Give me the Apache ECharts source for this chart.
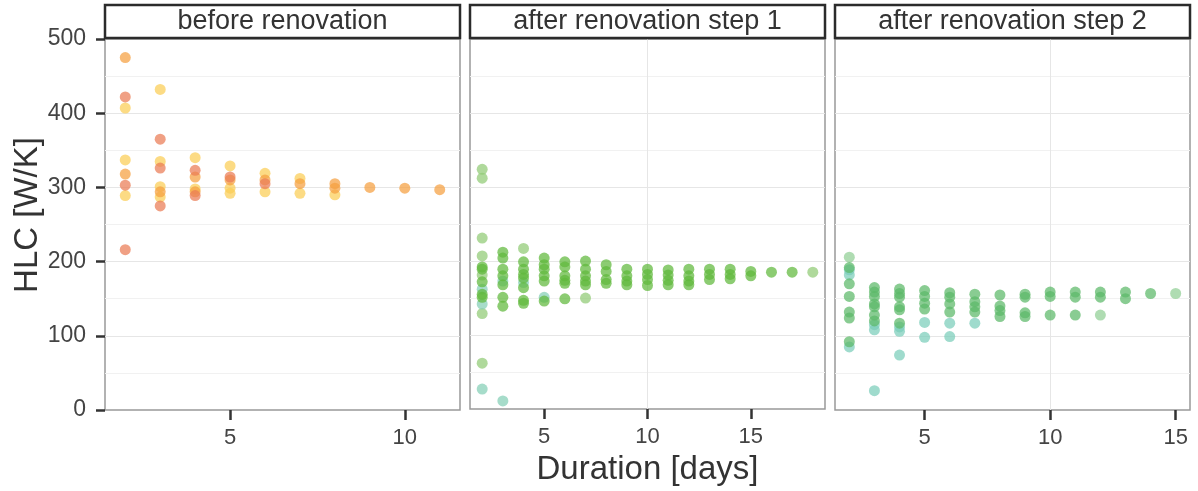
<!DOCTYPE html>
<html><head><meta charset="utf-8">
<script src="https://cdn.jsdelivr.net/npm/echarts@6/dist/echarts.min.js"></script>
<style>html,body{margin:0;padding:0;background:#fff}#c{width:1198px;height:491px}</style>
</head><body><div id="c"></div>
<script>
// ---- text / ticks ----
const panelTitles = ['before renovation', 'after renovation step 1', 'after renovation step 2'];
const xTicksP1 = [5, 10];
const xTicksP2 = [5, 10, 15];
const xTicksP3 = [5, 10, 15];
const yTicks = [0, 100, 200, 300, 400, 500];
const xTitle = 'Duration [days]';
const yTitle = 'HLC [W/K]';

// ---- data: [duration (days), HLC (W/K)] ----
// before renovation
const beforeYellow = [[2,407],[2,337],[2,289],[3,432],[3,335],[3,301],[3,287],[4,340],[4,298],[5,329],[5,299],[5,292],[6,319],[6,294],[7,312],[7,292],[8,290]];
const beforeOrange = [[2,475],[2,318],[3,294],[4,314],[4,294],[5,310],[6,310],[7,305],[8,305],[8,299],[9,300],[10,299],[11,297]];
const beforeRed = [[2,422],[2,303],[2,216],[3,365],[3,326],[3,275],[4,323],[4,289],[5,314],[6,305]];
// after renovation step 1
const step1Green = [[2,192],[2,189],[2,172],[2,155],[2,151],
  [3,212],[3,204],[3,189],[3,180],[3,168],[3,151],[3,139],
  [4,199],[4,189],[4,182],[4,177],[4,164],[4,147],[4,143],
  [5,204],[5,195],[5,189],[5,180],[5,173],[5,146],
  [6,199],[6,192],[6,180],[6,174],[6,170],[6,149],
  [7,200],[7,189],[7,180],[7,173],[7,168],
  [8,195],[8,186],[8,175],[8,170],
  [9,189],[9,180],[9,173],[9,168],
  [10,189],[10,182],[10,175],[10,167],
  [11,188],[11,181],[11,174],[11,168],
  [12,189],[12,180],[12,173],[12,168],
  [13,189],[13,182],[13,175],
  [14,189],[14,182],[14,176],
  [15,186],[15,180],[16,185],[17,185]];
const step1Light = [[2,324],[2,312],[2,231],[2,207],[2,181],[2,129],[2,62],[4,217],[7,150],[18,185]];
const step1Teal = [[2,162],[2,142],[2,27],[3,173],[3,11],[4,171],[5,151]];
// after renovation step 2
const step2Green = [[2,192],[2,170],[2,153],[2,132],[2,124],[2,92],
  [3,165],[3,159],[3,153],[3,143],[3,139],[3,128],[3,120],
  [4,163],[4,157],[4,152],[4,139],[4,135],[4,117],
  [5,161],[5,153],[5,144],[5,136],
  [6,158],[6,152],[6,143],[6,132],
  [7,156],[7,146],[7,139],[7,132],
  [8,155],[8,140],[8,134],[8,126],
  [9,156],[9,152],[9,131],[9,126],
  [10,159],[10,153],[10,128],
  [11,159],[11,152],[11,128],
  [12,159],[12,152],
  [13,159],[13,150],
  [14,157]];
const step2Light = [[2,206],[12,128],[15,157]];
const step2Teal = [[2,189],[2,182],[2,85],[3,115],[3,108],[3,26],[4,112],[4,106],[4,74],[5,118],[5,98],[6,117],[6,99],[7,117]];

// ---- layout ----
const FONT = "'Liberation Sans', Arial, sans-serif";
const panelLeft = [105, 470, 835];
const panelW = 355;
const panelTop = 39;
const panelBottomY = 410;
const xRanges = [[1.42, 11.58], [1.41, 18.59], [1.43, 15.57]];
const xTickSets = [xTicksP1, xTicksP2, xTicksP3];

const grids = panelLeft.map(l => ({
  left: l, width: panelW, top: panelTop, height: panelBottomY - panelTop,
  show: true, borderColor: '#999', borderWidth: 1.5, backgroundColor: 'transparent'
}));

const xAxes = xRanges.map((r, i) => ({
  type: 'value', gridIndex: i, min: r[0], max: r[1],
  axisLine: { show: false },
  axisTick: { show: true, customValues: xTickSets[i], length: 10, lineStyle: { color: '#333', width: 2.5 } },
  axisLabel: { customValues: xTickSets[i], fontSize: 22, color: '#444', fontFamily: FONT, margin: 17 },
  splitLine: { show: true, showMinLine: false, showMaxLine: false, lineStyle: { color: '#e6e6e6', width: 1 } },
  name: i === 1 ? xTitle : '', nameLocation: 'middle', nameGap: 38,
  nameTextStyle: { fontSize: 33, color: '#333', fontFamily: FONT }
}));

const yAxes = [0, 1, 2].map(i => ({
  type: 'value', gridIndex: i, min: 0, max: 500, interval: 100,
  axisLine: { show: false },
  axisTick: { show: i === 0, length: 9, lineStyle: { color: '#333', width: 2.5 } },
  axisLabel: { show: i === 0, fontSize: 23, color: '#444', fontFamily: FONT, margin: 19,
    formatter: v => (yTicks.indexOf(v) >= 0 ? String(v) : '') },
  splitLine: { show: true, showMinLine: false, showMaxLine: false, lineStyle: { color: '#e6e6e6', width: 1 } },
  minorTick: { show: false, splitNumber: 2 },
  minorSplitLine: { show: true, lineStyle: { color: '#f1f1f1', width: 1 } }
}));

function sc(data, idx, color) {
  return { type: 'scatter', xAxisIndex: idx, yAxisIndex: idx, data: data, symbolSize: 11,
    itemStyle: { color: color, opacity: 0.72 }, emphasis: { disabled: true }, silent: true };
}

const series = [
  sc(beforeYellow, 0, '#fbcd55'),
  sc(beforeOrange, 0, '#f5a040'),
  sc(beforeRed, 0, '#ea7c55'),
  sc(step1Light, 1, '#90cb74'),
  sc(step1Teal, 1, '#84cfb6'),
  sc(step1Green, 1, '#60b83c'),
  sc(step2Light, 2, '#90cf94'),
  sc(step2Teal, 2, '#7acdba'),
  sc(step2Green, 2, '#5cb968')
];

const graphics = [];
panelLeft.forEach((l, i) => {
  graphics.push({ type: 'rect', z: 100, shape: { x: l, y: 5, width: panelW, height: 33 },
    style: { fill: '#fff', stroke: '#2b2b2b', lineWidth: 2.5 } });
  graphics.push({ type: 'text', z: 101, x: l + panelW / 2, y: 22,
    style: { text: panelTitles[i], fontSize: 27, fill: '#333', fontFamily: FONT, align: 'center', verticalAlign: 'middle' } });
});
graphics.push({ type: 'text', x: 28, y: 215, rotation: Math.PI / 2,
  style: { text: yTitle, fontSize: 33, fill: '#333', fontFamily: FONT, align: 'center', verticalAlign: 'middle' } });

const chart = echarts.init(document.getElementById('c'), null, { renderer: 'canvas' });
chart.setOption({
  animation: false,
  backgroundColor: '#fff',
  grid: grids, xAxis: xAxes, yAxis: yAxes, series: series, graphic: graphics
});
</script></body></html>
